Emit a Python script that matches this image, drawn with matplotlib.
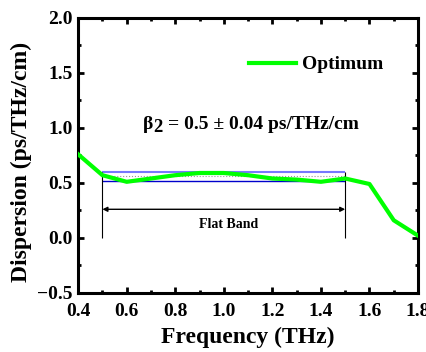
import numpy as np
import matplotlib.pyplot as plt
from matplotlib.ticker import MultipleLocator

plt.rcParams['font.family'] = ['Liberation Serif', 'DejaVu Serif']
plt.rcParams['font.weight'] = 'bold'

# dispersion curve
freq = [0.4, 0.5, 0.6, 0.7, 0.8, 0.9, 1.0, 1.1, 1.2, 1.3, 1.4, 1.5, 1.6, 1.7, 1.8]
dispersion = [0.76, 0.57, 0.51, 0.54, 0.57, 0.59, 0.59, 0.57, 0.54, 0.53, 0.51, 0.54, 0.49, 0.16, 0.02]

band = [0.5, 1.5]
band_top = 0.60
band_bottom = 0.52
band_mean = 0.56
arrow_y = 0.26

fig = plt.figure(figsize=(4.27, 3.52), dpi=100)
ax = fig.add_axes([0.183, 0.168, 0.796, 0.781])

ax.plot(freq, dispersion, color='#00ff00', lw=3, label='Optimum', zorder=3)

# flat band markers
ax.hlines(band_top, band[0], band[1], color='#7878ff', lw=1.5)
ax.hlines(band_bottom, band[0], band[1], color='#0000cc', lw=1.0)
ax.hlines(band_mean, band[0], band[1], color='#999999', lw=0.8, linestyles=':')
ax.vlines(band, 0.0, band_top, color='black', lw=0.8)
ax.annotate('', xy=(band[0], arrow_y), xytext=(band[1], arrow_y),
            arrowprops=dict(arrowstyle='<|-|>', color='black', lw=1.0,
                            mutation_scale=7, shrinkA=0, shrinkB=0))
ax.text(1.02, 0.12, 'Flat Band', ha='center', va='center', fontsize=10, fontweight='bold')

# beta_2 label, the "2" sits a little lower
ax.text(0.668, 1.03, 'β', ha='left', va='center', fontsize=14, fontweight='bold')
ax.text(0.708, 1.0, '2', ha='left', va='center', fontsize=13.5, fontweight='bold')
ax.text(0.772, 1.03, '= 0.5 ± 0.04 ps/THz/cm', ha='left', va='center',
        fontsize=14, fontweight='bold')

ax.set_xlim(0.4, 1.8)
ax.set_ylim(-0.5, 2.0)
ax.xaxis.set_major_locator(MultipleLocator(0.2))
ax.xaxis.set_minor_locator(MultipleLocator(0.1))
ax.yaxis.set_major_locator(MultipleLocator(0.5))
ax.yaxis.set_minor_locator(MultipleLocator(0.25))
ax.tick_params(which='both', direction='in', top=True, right=True, width=2)
ax.tick_params(which='major', length=4.5, labelsize=14)
ax.tick_params(axis='x', which='major', pad=7)
ax.tick_params(axis='y', which='major', pad=4)
ax.tick_params(which='minor', length=2.5)
for s in ax.spines.values():
    s.set_linewidth(2.2)

ax.set_xlabel('Frequency (THz)', fontsize=17, fontweight='bold', labelpad=5)
ax.set_ylabel('Dispersion (ps/THz/cm)', fontsize=17, fontweight='bold')
ax.yaxis.set_label_coords(-0.135, 0.478)

ax.legend(loc='center right', bbox_to_anchor=(0.948, 0.83), frameon=False,
          prop={'weight': 'bold', 'size': 14}, handlelength=2.4, handletextpad=0.3)

plt.savefig('out.png', dpi=100)
